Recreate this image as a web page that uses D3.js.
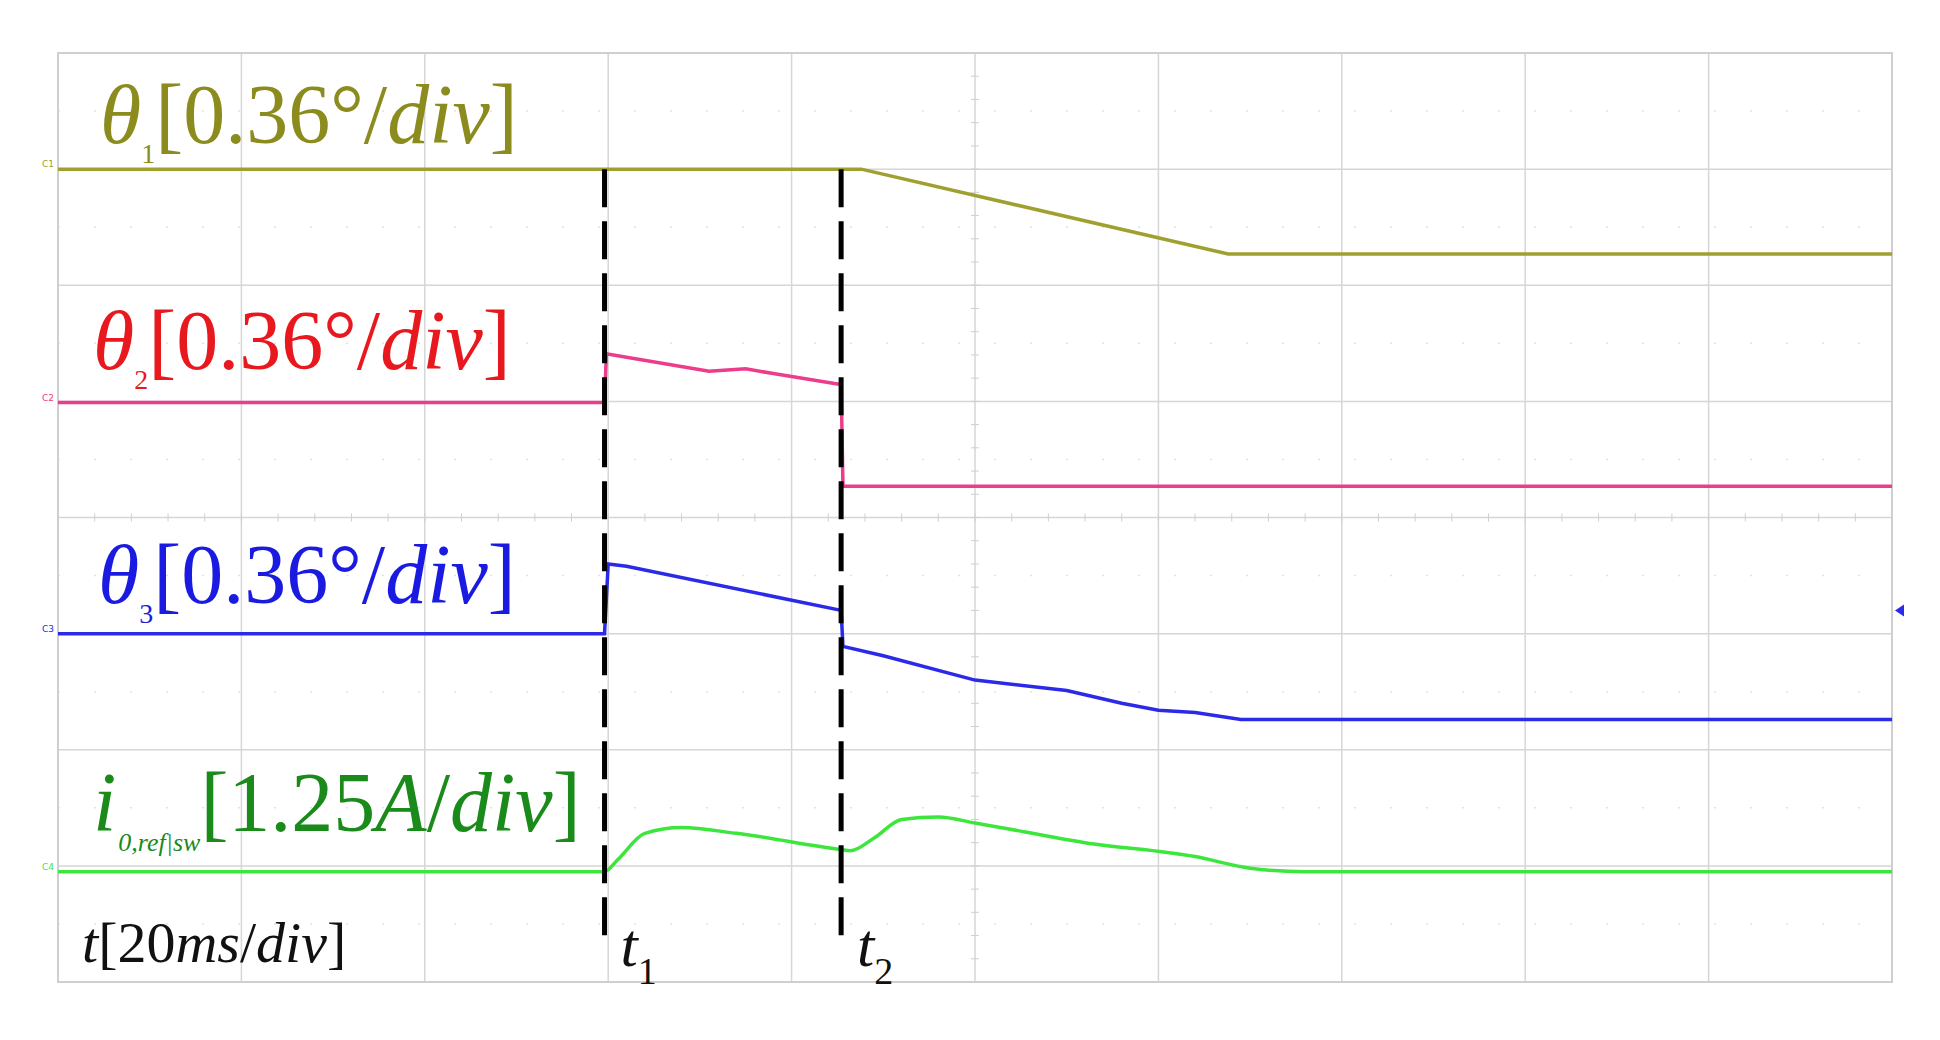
<!DOCTYPE html><html><head><meta charset="utf-8"><script src="https://d3js.org/d3.v7.min.js"></script>
<style>body{margin:0;background:#fff}</style></head><body><svg id="c" width="1940" height="1040"></svg>
<script>
// x in time divisions (0-10), y in vertical divisions from top (0-8)
const theta1 = [[0,1.0],[2.98,1.0],[4.3,1.0],[4.38,1.0],[6.38,1.73],[10,1.73]];
const theta2 = [[0,3.01],[2.98,3.01],[2.99,2.59],[3.1,2.62],[3.55,2.74],[3.75,2.72],[3.9,2.76],[4.25,2.85],[4.27,2.85],[4.28,3.73],[10,3.73]];
const theta3 = [[0,5.0],[2.98,5.0],[3.0,4.4],[3.1,4.42],[4.27,4.8],[4.28,5.11],[4.5,5.19],[5.0,5.4],[5.5,5.49],[5.8,5.6],[6.0,5.66],[6.2,5.68],[6.45,5.74],[10,5.74]];
const current = [[0,7.05],[2.98,7.05],[3.05,6.95],[3.2,6.72],[3.4,6.67],[3.7,6.72],[4.27,6.86],[4.32,6.87],[4.45,6.76],[4.6,6.6],[4.8,6.58],[5.0,6.63],[5.6,6.8],[6.2,6.92],[6.5,7.02],[6.8,7.05],[10,7.05]];
const markers = [2.98, 4.27];
const labels = [
 {main:"θ",sub:"1",color:"#8b8b1e"},
 {main:"θ",sub:"2",color:"#e8191e"},
 {main:"θ",sub:"3",color:"#1a1ae0"},
];
const W=1940,H=1040,L=58,R=1892,T=53,B=982;
const svg=d3.select("#c");
const x=d3.scaleLinear().domain([0,10]).range([L,R]);
const y=d3.scaleLinear().domain([0,8]).range([T,B]);
const g=svg.append("g");
g.selectAll(".vg").data(d3.range(1,10)).join("line").attr("x1",d=>x(d)).attr("x2",d=>x(d)).attr("y1",T).attr("y2",B).attr("stroke","#d6d6d6").attr("stroke-width",1.5);
g.selectAll(".hg").data(d3.range(1,8)).join("line").attr("y1",d=>y(d)).attr("y2",d=>y(d)).attr("x1",L).attr("x2",R).attr("stroke","#d6d6d6").attr("stroke-width",1.5);
g.selectAll(".hm").data(d3.range(0.5,8,1)).join("line").attr("y1",d=>y(d)).attr("y2",d=>y(d)).attr("x1",L).attr("x2",R).attr("stroke","#e2e2e2").attr("stroke-width",1.5).attr("stroke-dasharray","2,34");
g.selectAll(".ct").data(d3.range(0,10.01,0.2)).join("line").attr("x1",d=>x(d)).attr("x2",d=>x(d)).attr("y1",y(4)-4).attr("y2",y(4)+4).attr("stroke","#cfcfcf");
g.selectAll(".cv").data(d3.range(0,8.01,0.2)).join("line").attr("y1",d=>y(d)).attr("y2",d=>y(d)).attr("x1",x(5)-4).attr("x2",x(5)+4).attr("stroke","#cfcfcf");
g.append("rect").attr("x",L).attr("y",T).attr("width",R-L).attr("height",B-T).attr("fill","none").attr("stroke","#cfcfcf").attr("stroke-width",2);
const line=d3.line().x(d=>x(d[0])).y(d=>y(d[1]));
const curve=d3.line().x(d=>x(d[0])).y(d=>y(d[1])).curve(d3.curveMonotoneX);
[[theta1,"#a0a030",line],[theta2,"#ec3c8c",line],[theta3,"#2a2ae8",line],[current,"#3ce63c",curve]].forEach(([d,c,f])=>{
 g.append("path").attr("d",f(d)).attr("fill","none").attr("stroke",c).attr("stroke-width",3.5);
});
g.selectAll(".mk").data(markers).join("line").attr("x1",d=>x(d)).attr("x2",d=>x(d)).attr("y1",y(1)).attr("y2",y(7.6)).attr("stroke","#000").attr("stroke-width",5).attr("stroke-dasharray","38,14");
const F="'Liberation Serif','Times New Roman',serif";
const lx=[100,93,98];
const by=[143,369,603];
labels.forEach((l,i)=>{
 const t=g.append("text").attr("x",lx[i]).attr("y",by[i]).attr("font-family",F).attr("font-size",84).attr("fill",l.color);
 t.append("tspan").attr("font-style","italic").text(l.main);
 t.append("tspan").attr("font-size",28).attr("dx",0).attr("dy",20).text(l.sub);
 t.append("tspan").attr("dy",-20).attr("dx",0).text("[0.36°/");
 t.append("tspan").attr("font-style","italic").text("div");
 t.append("tspan").text("]");
});
const ti=g.append("text").attr("x",93).attr("y",831).attr("font-family",F).attr("font-size",84).attr("fill","#1a8a1a");
ti.append("tspan").attr("font-style","italic").text("i");
ti.append("tspan").attr("font-size",26).attr("font-style","italic").attr("dy",20).attr("dx",2).text("0,ref|sw");
ti.append("tspan").attr("dy",-20).text("[1.25");
ti.append("tspan").attr("font-style","italic").text("A");
ti.append("tspan").text("/");
ti.append("tspan").attr("font-style","italic").text("div");
ti.append("tspan").text("]");
const tt=g.append("text").attr("x",82).attr("y",962).attr("font-family",F).attr("font-size",58).attr("fill","#111");
tt.append("tspan").attr("font-style","italic").text("t");
tt.append("tspan").text("[20");
tt.append("tspan").attr("font-style","italic").text("ms");
tt.append("tspan").text("/");
tt.append("tspan").attr("font-style","italic").text("div");
tt.append("tspan").text("]");
markers.forEach((m,i)=>{
 const t=g.append("text").attr("x",x(m)+16).attr("y",966).attr("font-family",F).attr("font-size",62).attr("fill","#111");
 t.append("tspan").attr("font-style","italic").text("t");
 t.append("tspan").attr("font-size",38).attr("dy",18).text(String(i+1));
});
[[1.0,"#a0a030"],[3.01,"#ec3c8c"],[5.0,"#2a2ae8"],[7.05,"#3ce63c"]].forEach(([v,c],i)=>{
 g.append("text").attr("x",L-16).attr("y",y(v)-2).attr("font-size",9).attr("font-family","DejaVu Sans").attr("fill",c).text("C"+(i+1));
});
g.append("path").attr("d",`M${R+12},${y(4.8)-6}L${R+3},${y(4.8)}L${R+12},${y(4.8)+6}Z`).attr("fill","#2a2ae8");
</script></body></html>
